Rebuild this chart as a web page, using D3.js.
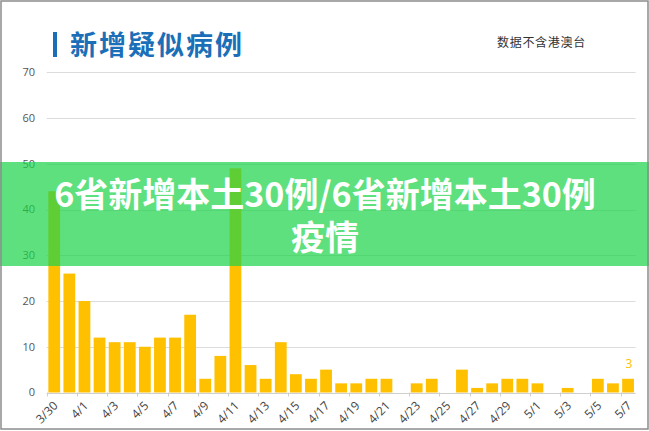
<!DOCTYPE html>
<html>
<head>
<meta charset="utf-8">
<script src="https://cdn.jsdelivr.net/npm/d3@7"></script>
<style>
  body { margin: 0; background: #fff; }
  svg { display: block; }
</style>
</head>
<body>
<div id="chart"></div>
<script>
  // DATA
  var dates = ["3/30", "3/31", "4/1", "4/2", "4/3", "4/4", "4/5", "4/6", "4/7", "4/8",
    "4/9", "4/10", "4/11", "4/12", "4/13", "4/14", "4/15", "4/16", "4/17", "4/18",
    "4/19", "4/20", "4/21", "4/22", "4/23", "4/24", "4/25", "4/26", "4/27", "4/28",
    "4/29", "4/30", "5/1", "5/2", "5/3", "5/4", "5/5", "5/6", "5/7"];
  var cases = [44, 26, 20, 12, 11, 11, 10, 12, 12, 17,
    3, 8, 49, 6, 3, 11, 4, 3, 5, 2,
    2, 3, 3, 0, 2, 3, 0, 5, 1, 2,
    3, 3, 2, 0, 1, 0, 3, 2, 3];
  var yTicks = [0, 10, 20, 30, 40, 50, 60, 70];
  var title = "新增疑似病例";
  var note = "数据不含港澳台";
  var bannerLines = ["6省新增本土30例/6省新增本土30例", "疫情"];

  var W = 649, H = 431;
  var svg = d3.select("#chart")
    .append("svg")
    .attr("width", W)
    .attr("height", H);

  var x = d3.scaleBand()
    .domain(dates)
    .range([46.7, 635.6])
    .paddingInner(0.22)
    .paddingOuter(0.11);
  var y = d3.scaleLinear()
    .domain([0, 70])
    .range([392.5, 72.3]);
  var step = x.step();

  // gridlines + y labels
  var grid = svg.append("g");
  grid.selectAll("line")
    .data(yTicks.filter(function(d) { return d > 0; }))
    .enter()
    .append("line")
    .attr("x1", 46.7).attr("x2", 635.6)
    .attr("y1", function(d) { return Math.round(y(d)) + 0.5; })
    .attr("y2", function(d) { return Math.round(y(d)) + 0.5; })
    .attr("stroke", "#dcdcdc")
    .attr("stroke-width", 1);
  grid.selectAll("text")
    .data(yTicks)
    .enter()
    .append("text")
    .attr("x", 35)
    .attr("y", function(d) { return y(d); })
    .attr("dy", "0.35em")
    .attr("text-anchor", "end")
    .attr("font-family", "'Open Sans', 'Noto Sans', sans-serif")
    .attr("font-size", 11)
    .attr("fill", "#555")
    .text(function(d) { return d; });

  // bars
  svg.append("g")
    .selectAll("rect")
    .data(cases)
    .enter()
    .append("rect")
    .attr("x", function(d, i) { return x(dates[i]); })
    .attr("width", x.bandwidth())
    .attr("y", function(d) { return y(d); })
    .attr("height", function(d) { return y(0) - y(d); })
    .attr("fill", "#ffc000");

  // value label on the last bar
  var last = dates.length - 1;
  svg.append("text")
    .attr("x", x(dates[last]) + x.bandwidth() / 2 + 1)
    .attr("y", y(cases[last]) - 11)
    .attr("text-anchor", "middle")
    .attr("font-family", "'Open Sans', 'Noto Sans', sans-serif")
    .attr("font-size", 12)
    .attr("fill", "#ffc000")
    .text(cases[last]);

  // x axis
  var axis = svg.append("g");
  axis.append("line")
    .attr("x1", 46.7).attr("x2", 635.6)
    .attr("y1", Math.round(y(0)) + 0.5).attr("y2", Math.round(y(0)) + 0.5)
    .attr("stroke", "#cfcfcf");
  var tickDates = dates.filter(function(d, i) { return i % 2 === 0; });
  axis.selectAll("line.tick")
    .data(tickDates)
    .enter()
    .append("line")
    .classed("tick", true)
    .attr("x1", function(d) { return Math.round(x(d) - step * 0.11) + 0.5; })
    .attr("x2", function(d) { return Math.round(x(d) - step * 0.11) + 0.5; })
    .attr("y1", y(0)).attr("y2", y(0) + 4)
    .attr("stroke", "#cfcfcf");
  axis.selectAll("text")
    .data(tickDates)
    .enter()
    .append("text")
    .attr("transform", function(d) {
      return "translate(" + (x(d) - step * 0.11 + 9) + "," + (y(0) + 11) + ")rotate(-45)";
    })
    .attr("text-anchor", "end")
    .attr("dy", "0.35em")
    .attr("font-family", "'Open Sans', 'Noto Sans', sans-serif")
    .attr("font-size", 12)
    .attr("fill", "#444")
    .text(function(d) { return d; });

  // title
  svg.append("rect")
    .attr("x", 53).attr("y", 32)
    .attr("width", 4).attr("height", 25)
    .attr("fill", "#1a6fb8");
  svg.append("text")
    .attr("x", 70).attr("y", 55)
    .attr("font-family", "'Noto Sans CJK SC', sans-serif")
    .attr("font-weight", "bold")
    .attr("font-size", 27)
    .attr("letter-spacing", 2)
    .attr("fill", "#1a6fb8")
    .text(title);
  svg.append("text")
    .attr("x", 497).attr("y", 47)
    .attr("font-family", "'Noto Sans CJK SC', sans-serif")
    .attr("font-size", 12)
    .attr("letter-spacing", 0.7)
    .attr("fill", "#333")
    .text(note);

  // green banner over the chart
  svg.append("rect")
    .attr("x", 0).attr("y", 162)
    .attr("width", W).attr("height", 104)
    .attr("fill", "rgb(28,211,73)")
    .attr("fill-opacity", 0.71);
  svg.append("g")
    .selectAll("text")
    .data(bannerLines)
    .enter()
    .append("text")
    .attr("x", 325)
    .attr("y", function(d, i) { return 207 + i * 43; })
    .attr("text-anchor", "middle")
    .attr("font-family", "'Noto Sans CJK SC', sans-serif")
    .attr("font-weight", "bold")
    .attr("font-size", 34)
    .attr("fill", "#fff")
    .text(function(d) { return d; });

  // frame
  svg.append("rect")
    .attr("x", 1).attr("y", 1)
    .attr("width", W - 2).attr("height", H - 3)
    .attr("fill", "none")
    .attr("stroke", "#8c8c8c")
    .attr("stroke-width", 1.5);
</script>
</body>
</html>
